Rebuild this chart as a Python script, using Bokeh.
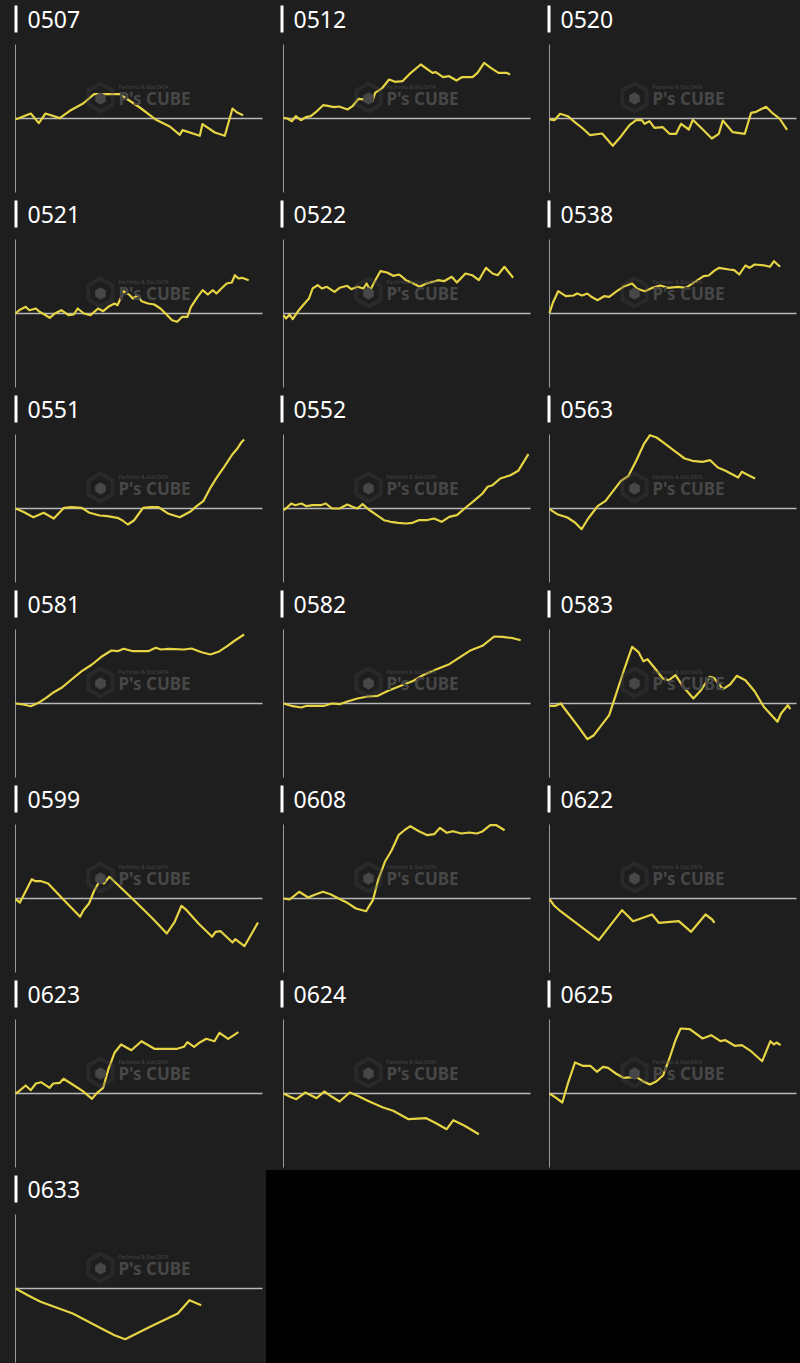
import math
from bokeh.plotting import figure
from bokeh.layouts import column, row
from bokeh.models import Range1d, Label, PolyAnnotation
from bokeh.embed import file_html
from bokeh.resources import INLINE

# Units: g_* = games played (x40 G), d_* = coin difference (x100 coins)
names = ["0507", "0512", "0520", "0521", "0522", "0538", "0551", "0552", "0563",
         "0581", "0582", "0583", "0599", "0608", "0622", "0623", "0624", "0625", "0633"]

g_0507 = [0, 2.6, 15.3, 23.3, 30, 44.3, 54.3, 67.6, 78.6, 104.3, 109.3, 124.3, 141, 154.3,
          164.3, 167, 184.3, 187, 199.3, 209.3, 217, 221.6, 227.6]
d_0507 = [-0.6, 0, 5, -4.6, 5, 0.4, 7.7, 15, 24.4, 24.4, 21, 11, -1.6, -8,
          -16.3, -11.6, -17.3, -5.6, -14, -17.3, 10, 6, 3.3]

g_0512 = [0, 4, 8.3, 12.3, 17.3, 22.3, 27.3, 32.3, 39.6, 45.6, 50.6, 55.6, 64, 69, 75, 84, 89,
          91.6, 99, 105.6, 111.6, 119, 127.3, 137.3, 149, 152.3, 159.6, 165.6, 173, 178.3, 189,
          194, 200.6, 207.3, 215, 223, 226.6]
d_0512 = [0.6, 0, -2.7, 2.3, -1.7, 1.3, 2.3, 6.3, 13.3, 12.3, 11.3, 12, 9, 12.3, 19.7, 18.7, 17.3,
          25.7, 30.7, 39, 36.7, 37.3, 45.7, 54, 45.7, 46.3, 41.3, 42.3, 38, 41.3, 41.3,
          45.7, 55.7, 50.7, 45.7, 45.7, 44]

g_0520 = [0, 5, 10.6, 18.3, 25, 33.3, 40.6, 52.6, 63.3, 71.6, 80, 86.6, 92.3, 95, 100, 105,
          113.3, 120, 126.6, 131.6, 139.3, 143.3, 153.3, 162.3, 169.3, 173.3, 183.3, 195.3,
          201.6, 206.6, 216.6, 222.6, 230, 237.6]
d_0520 = [-1, -1.7, 4.7, 2.3, -3.3, -10, -16.7, -15, -27.3, -17.7, -6.7, -1.7, -1.7, -5.3, -2.7,
          -9.3, -8.7, -15.3, -15.3, -5.3, -11, -1.3, -11, -20, -15.3, -2, -13.7, -15.3,
          5.7, 6.7, 11.7, 5.7, 0, -11.3]

g_0521 = [0, 3.6, 10.2, 13.8, 20.4, 24, 29, 34.2, 39.3, 45.9, 53, 58.2, 62.2, 68.4, 75, 82.6,
          87.7, 92.8, 99, 102, 108.2, 114.3, 117.3, 122.4, 126, 132.6, 138.8, 144.9, 150,
          156.6, 161.7, 166.8, 171.9, 175.5, 182.1, 187.2, 192.3, 197.4, 201, 205.1, 211.2,
          216.3, 219.4, 223, 226.5, 233.2]
d_0521 = [0, 3.3, 6.7, 3.3, 5, 1.7, -1, -4.3, 0, 3.3, -1.7, -1, 5, 0, -1.7, 5,
          2.3, 6.7, 10, 8.3, 22.3, 18.3, 15, 18.3, 12.3, 10, 9, 5, 0,
          -6.7, -8.3, -3.3, -3.3, 6.7, 16.7, 23.3, 19, 23.3, 20, 24.3, 30,
          31, 38.3, 35, 35.7, 33.3]

g_0522 = [0, 2.6, 6.1, 9.2, 15.3, 21.9, 25.5, 29.1, 34.2, 38.3, 43.4, 51, 56.1, 63.7, 67.8, 74,
          80, 83.1, 86.7, 91.8, 96.9, 103.5, 109.7, 115.8, 122.4, 130, 136.2, 142.8, 149.4,
          154.5, 160.6, 168.2, 173.4, 182, 188.7, 195.3, 202.5, 209.1, 214.2, 220.9, 229.6]
d_0522 = [-1.7, -5, -1, -5.7, 3.3, 11, 15, 25, 28.3, 25, 26.7, 21.7, 25.7, 27.7, 24.3, 26.7,
          25, 30, 23.3, 33.3, 42.3, 41, 37.7, 39, 33.3, 30, 26.7, 30, 31.7,
          33.3, 32.3, 36.7, 31, 40, 38.3, 33.3, 45.7, 40, 38.3, 46.7, 35.7]

g_0538 = [0, 3.6, 8.7, 16.3, 24, 27.6, 32.7, 37.8, 41.9, 48, 54.6, 59.7, 67.3, 75, 82.6, 87.7,
          95.4, 103, 110.7, 118.4, 128.6, 136.2, 143.9, 154.1, 159.2, 164.3, 169.4, 179.6,
          184.7, 189.8, 195.9, 200, 205.1, 215.3, 220.4, 224.5, 230.6]
d_0538 = [0.7, 11.3, 22.3, 17.3, 18, 20, 18, 20, 16.7, 13.3, 17.3, 16.7, 22.3, 27.3, 30, 24.7,
          22.3, 25.7, 28, 25.7, 26.7, 25.7, 30.7, 37.3, 38, 42.3, 45.7, 44,
          43.3, 39, 48, 45.7, 49, 48, 46.7, 52.3, 46.7]

g_0551 = [0, 7.7, 17.9, 28.1, 38.3, 48.5, 56.1, 66.3, 74, 84.2, 91.8, 102, 107.1, 112.3, 118.4,
          127.6, 135.2, 142.9, 153.1, 164.3, 174.5, 181.1, 187.8, 194.9, 201.5, 209.2, 216.8,
          221.9, 225.5, 228.6]
d_0551 = [0, -3.3, -8.7, -4.3, -10, 0.7, 1.3, 0.7, -4.3, -7, -7.7, -9.3, -12, -16, -12,
          0.7, 1.3, 1.3, -5.3, -8.7, -3.3, 2.3, 7.3, 20.7, 31.3, 42.3, 54,
          60, 65.7, 69]

g_0552 = [0, 3.6, 7.7, 11.7, 17.9, 23, 29.1, 37.2, 42.3, 48.5, 56.1, 63.8, 68.9, 74, 79.1, 85.2,
          93.3, 100.5, 107.1, 114.8, 122.4, 129, 135.2, 142.8, 150.5, 158.1, 165.8, 173.4,
          181.1, 191.3, 199, 204, 209.1, 216.8, 227, 234.7, 244.9]
d_0552 = [-1.7, 1, 5, 3.3, 5, 2.3, 3.3, 3.3, 5, 0, 0, 4, 1.7, 0, 4.3, -1,
          -6.7, -11.7, -13.3, -14.3, -15, -14.3, -11.7, -11.7, -10, -13.3, -8.3, -6.7,
          0, 8.3, 15, 21.7, 23.3, 30, 33.3, 37.7, 54.3]

g_0563 = [0, 7.7, 17.9, 25.5, 32.1, 38.2, 43.3, 48.4, 56.1, 63.7, 71.4, 79, 86.7, 94.3, 100.5,
          107.1, 114.7, 124.9, 135.1, 142.8, 153, 160.7, 168.3, 176, 188.7, 192.3, 198.9, 205.6]
d_0563 = [-0.7, -5.7, -9, -14, -20.7, -10.7, -4, 2.7, 7.7, 17.7, 27.7, 32.7, 47.7, 64.3, 73.3,
          71, 65.3, 57.7, 50, 47.7, 46.7, 48.3, 41, 37.7, 31, 36.7, 33.3, 30]

g_0581 = [0, 7.7, 15.3, 23, 30.6, 38.3, 46, 56.1, 66.3, 76.5, 86.7, 95.9, 102, 108.2, 117.3,
          132.7, 140.3, 145.4, 153.1, 168.4, 176, 186.2, 194.9, 203, 211.7, 219.4, 228.6]
d_0581 = [0, -1, -2.7, 0.7, 5.7, 11.3, 15.7, 24, 32.3, 39, 47.3, 53, 52.3, 54.7, 52.3,
          52.3, 55.7, 54, 54.7, 54, 55, 51.3, 49, 51.7, 57.3, 63, 69]

g_0582 = [0, 7.7, 17.9, 23, 40.8, 48.5, 56.1, 63.8, 74, 84.2, 94.4, 104.6, 117.3, 130, 140.3,
          153.1, 165.8, 178.5, 186.2, 198.9, 210.7, 219.4, 229.6, 237.2]
d_0582 = [0, -2.3, -4, -2.3, -2.3, 0, -0.7, 2, 5, 7, 7.7, 12.7, 17.7, 22.7, 28.7,
          34.3, 39.3, 47.7, 52.7, 57.7, 67, 66.7, 65.3, 63.3]

g_0583 = [0, 6.1, 11.2, 18.8, 29, 37.8, 44.4, 52, 59.7, 67.3, 75, 82.6, 88.8, 93.9, 98, 105.6,
          113.3, 119.4, 126, 133.7, 143.9, 151.5, 160.2, 164.3, 173.5, 180.6, 187.2, 195.9,
          205.1, 214.3, 220.4, 228, 231.6, 238.3, 240.8]
d_0583 = [-2.3, -2.3, 0, -10, -23.3, -35.7, -31.7, -21.7, -11.7, 11.7, 35, 56.7, 51.7, 42.3, 44.3, 35,
          25, 23.3, 28.3, 16.7, 5, 13.3, 26.7, 25.7, 14.3, 19, 27.7, 23.3,
          12.3, -3.3, -10, -18.3, -10, -1.7, -5.7]

g_0599 = [0, 4.4, 16.3, 19.7, 25.8, 32.6, 48.6, 64.6, 68, 73.5, 78.2, 85, 88.4, 93.9, 108.1,
          121.8, 137.1, 151.3, 159.2, 166, 171.1, 183, 196.6, 200, 205.1, 217, 219.7, 228.9,
          235.7, 242.5]
d_0599 = [-0.7, -4, 19.3, 17.3, 17.3, 15, -1.7, -18.3, -11.7, -5, 6.7, 19.3, 15, 21.7, 8.3,
          -5, -20, -35, -23.3, -7.3, -11.7, -25, -38.3, -33.3, -32.7, -44, -40.7, -47.7,
          -36, -24]

g_0608 = [0, 6.1, 15.6, 24.8, 29.9, 39.4, 46.9, 57.1, 63.9, 72.4, 82.6, 89.4, 94.6, 101.4, 108.2,
          115, 121.8, 126.9, 135.4, 143.9, 150.7, 156.5, 163.3, 169.4, 177.9, 185.7, 193.2,
          198.3, 206.8, 212.9, 221.1]
d_0608 = [0, -1, 6.7, 1, 3.3, 6.7, 4.3, -1, -4.3, -10, -12.7, -1.7, 18.3, 36.7, 48.3,
          63.3, 69, 72.3, 67.3, 63.3, 64.3, 70.7, 65.7, 67.3, 65, 66, 65,
          66.7, 73.3, 73.3, 68.3]

g_0622 = [0, 4.3, 11, 49.3, 72.6, 83.6, 102.6, 109.3, 129.3, 141.6, 156, 162.6, 165]
d_0622 = [-0.7, -6.7, -12.7, -41.7, -11.7, -22.7, -16, -24.3, -22.7, -33.3, -16, -21, -24.3]

g_0623 = [0, 3.6, 10.2, 15.3, 20.4, 25.5, 34.2, 37.8, 44.4, 48, 57.1, 67.3, 76.5, 81.6, 87.7,
          92.8, 99, 105.6, 115.8, 126, 138.8, 161.7, 168.4, 171.9, 178.6, 184.7, 190.8, 199,
          204, 212.7, 222.9]
d_0623 = [0, 2.3, 8, 3.3, 10, 11.3, 5.7, 10, 10.7, 14.7, 9, 2.3, -5.3, 0.7, 5.7,
          24, 40.7, 49, 43.3, 52.3, 44.7, 44.7, 46.7, 51.3, 46.7, 51.3, 54.7, 52.3,
          60.7, 54.7, 61.3]

g_0624 = [0, 6.6, 12.8, 21.9, 33.1, 40.8, 48.5, 56.1, 66.3, 74, 84.2, 99.5, 109.7, 125, 142.8,
          153, 163.2, 169.9, 181.1, 195.4]
d_0624 = [0, -3.3, -5.7, 1, -4.7, 2, -3.3, -8, 1, -2.3, -7.3, -14, -17.3, -25.7, -24.7,
          -30, -35.7, -26.7, -32.3, -40.7]

g_0625 = [0, 6.6, 12.8, 18.9, 25.5, 33.2, 40.8, 47.4, 53.5, 58.6, 66.3, 73.9, 86.7, 93.3, 100.5,
          107.1, 113.7, 119.9, 126, 131.1, 140.3, 153.1, 161.7, 170.9, 176, 185.2, 192.3,
          201.5, 212.7, 220.9, 224.5, 227, 231.1]
d_0625 = [0, -4.3, -9, 11.7, 31, 27.7, 27.7, 21.7, 26.7, 25.7, 20, 15.7, 16.7, 12.3, 9,
          12.3, 18.3, 35, 53.3, 65, 64.3, 55, 58.3, 52.3, 53.3, 47.7, 48.3,
          42.3, 32.3, 52.3, 49, 51, 48.3]

g_0633 = [0, 12.3, 25, 57.3, 84, 99, 109.7, 135.7, 162.3, 174, 185.7]
d_0633 = [0, -6.7, -13.3, -25, -39, -46.7, -50.7, -37.7, -25, -11.7, -16.7]

series_g = [g_0507, g_0512, g_0520, g_0521, g_0522, g_0538, g_0551, g_0552, g_0563,
            g_0581, g_0582, g_0583, g_0599, g_0608, g_0622, g_0623, g_0624, g_0625, g_0633]
series_d = [d_0507, d_0512, d_0520, d_0521, d_0522, d_0538, d_0551, d_0552, d_0563,
            d_0581, d_0582, d_0583, d_0599, d_0608, d_0622, d_0623, d_0624, d_0625, d_0633]

X_MAX = 247      # plot-area width in data units
Y_LIM = 74       # symmetric half-range of the difference axis

BG = "#1e1e1e"
LINE = "#e6d444"
WM = "#474747"
COL_W = [266, 267, 267]
LEFT_B = [15, 17, 16]
TOP_B = 44       # space for the panel title


def make_panel(idx):
    c = idx % 3
    r = idx // 3
    w = COL_W[c]
    h = 193 if r == 6 else 195
    lb = LEFT_B[c]
    top = TOP_B + Y_LIM
    p = figure(width=w, height=h, x_range=Range1d(-lb, w - lb), y_range=Range1d(top - h, top),
               output_backend="svg", toolbar_location=None, tools="", title=None,
               x_axis_location=None, y_axis_location=None, min_border=0,
               background_fill_color=BG, border_fill_color=BG, outline_line_color=None,
               styles={"background-color": BG})
    p.grid.visible = False

    # watermark
    cx, cy, rad = 85, top - 97, 14
    hx = [cx + rad * math.cos(math.radians(90 + 60 * k)) for k in range(6)]
    hy = [cy + rad * math.sin(math.radians(90 + 60 * k)) for k in range(6)]
    p.add_layout(PolyAnnotation(xs=hx, ys=hy, fill_color=None, line_color=WM, line_width=4))
    rad2 = 6
    hx2 = [cx + rad2 * math.cos(math.radians(90 + 60 * k)) for k in range(6)]
    hy2 = [cy - 1 + rad2 * math.sin(math.radians(90 + 60 * k)) for k in range(6)]
    p.add_layout(PolyAnnotation(xs=hx2, ys=hy2, fill_color=WM, fill_alpha=1,
                                line_color=WM, line_width=1))
    p.add_layout(Label(x=103, y=top - 98, text="P's CUBE",
                       text_color=WM, text_font="Noto Sans", text_font_style="bold",
                       text_font_size="17px", text_baseline="alphabetic"))
    p.add_layout(Label(x=103, y=top - 86, text="Pachinko & Slot DATA", text_color=WM,
                       text_font="Noto Sans", text_font_size="5px", text_baseline="alphabetic"))

    # axis line and zero line
    p.segment(x0=[0], y0=[-Y_LIM], x1=[0], y1=[Y_LIM], line_color="#9a9a9a", line_width=1)
    p.segment(x0=[0], y0=[0], x1=[X_MAX], y1=[0], line_color="#b8b8b8", line_width=1.5)

    p.line(series_g[idx], series_d[idx], line_color=LINE, line_width=2.2, line_join="round")

    # title bar + title text
    p.quad(left=[14 - lb], right=[17 - lb], top=[top - 5], bottom=[top - 32],
           fill_color="white", line_color=None)
    p.add_layout(Label(x=27 - lb, y=top - 19, text=names[idx],
                       text_color="white", text_font="Noto Sans", text_font_size="23px",
                       text_baseline="alphabetic"))
    return p


panels = [make_panel(i) for i in range(len(names))]

filler = figure(width=534, height=193, output_backend="svg", toolbar_location=None, tools="",
                title=None, x_axis_location=None, y_axis_location=None, min_border=0,
                background_fill_color="black", border_fill_color="black", outline_line_color=None,
                styles={"background-color": "black"})
filler.grid.visible = False

rows = []
for r in range(6):
    rows.append(row(*panels[r * 3:r * 3 + 3], spacing=0, styles={"background-color": BG}))
rows.append(row(panels[18], filler, spacing=0, styles={"background-color": BG}))
layout = column(*rows, spacing=0, styles={"background-color": BG})

open("out.html", "w").write(file_html(layout, INLINE))
